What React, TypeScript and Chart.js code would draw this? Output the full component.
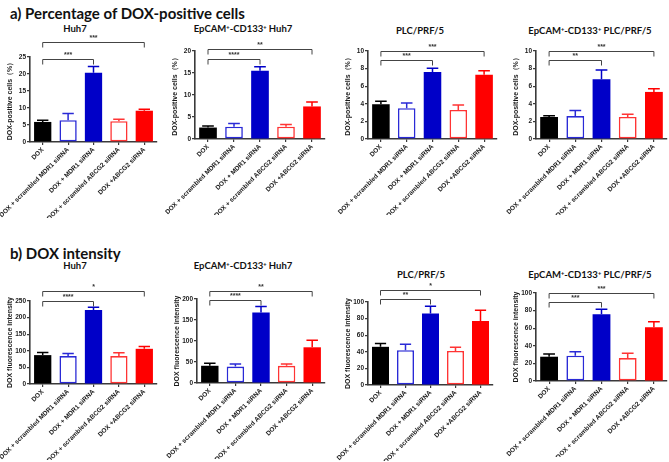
import React, { useEffect, useRef } from 'react';
import { Chart, registerables } from 'chart.js';

Chart.register(...registerables);

// ---------- data ----------
const CATEGORIES = [
  'DOX',
  'DOX + scrambled MDR1 siRNA',
  'DOX + MDR1 siRNA',
  'DOX + scrambled ABCG2 siRNA',
  'DOX +ABCG2 siRNA',
];

// a) Percentage of DOX-positive cells
const A_HUH7_VALUES = [5.9, 6.4, 20.4, 6.1, 9.2];
const A_HUH7_ERRORS = [0.5, 2.0, 1.8, 0.6, 0.4];
const A_EPCAM_HUH7_VALUES = [2.6, 2.8, 15.5, 2.8, 7.4];
const A_EPCAM_HUH7_ERRORS = [0.35, 0.75, 0.9, 0.5, 1.0];
const A_PLC_VALUES = [3.95, 3.5, 7.6, 3.3, 7.3];
const A_PLC_ERRORS = [0.35, 0.6, 0.45, 0.55, 0.45];
const A_EPCAM_PLC_VALUES = [2.5, 2.6, 6.8, 2.5, 5.35];
const A_EPCAM_PLC_ERRORS = [0.15, 0.65, 1.05, 0.3, 0.35];

// b) DOX intensity
const B_HUH7_VALUES = [87, 84, 223, 84, 106];
const B_HUH7_ERRORS = [8, 8, 8, 10, 7];
const B_EPCAM_HUH7_VALUES = [41, 39, 168, 41, 85];
const B_EPCAM_HUH7_ERRORS = [6, 6, 14, 4.5, 17];
const B_PLC_VALUES = [46, 42, 86, 41, 77];
const B_PLC_ERRORS = [4, 7, 9, 4.5, 13];
const B_EPCAM_PLC_VALUES = [27.6, 28.8, 75.8, 26, 61];
const B_EPCAM_PLC_ERRORS = [3, 4.5, 5.6, 5.4, 6.4];

// axis ranges
const A_HUH7_AXIS = { max: 25, step: 5 };
const A_EPCAM_HUH7_AXIS = { max: 20, step: 5 };
const A_PLC_AXIS = { max: 10, step: 2 };
const A_EPCAM_PLC_AXIS = { max: 10, step: 2 };
const B_HUH7_AXIS = { max: 250, step: 50 };
const B_EPCAM_HUH7_AXIS = { max: 200, step: 50 };
const B_PLC_AXIS = { max: 100, step: 20 };
const B_EPCAM_PLC_AXIS = { max: 100, step: 20 };

// significance brackets (category indices, level in data units)
const A_HUH7_SIG = [
  { from: 0, to: 4, at: 29.5, label: '***' },
  { from: 0, to: 2, at: 24.5, label: '***' },
];
const A_EPCAM_HUH7_SIG = [
  { from: 0, to: 4, at: 20.5, label: '**' },
  { from: 0, to: 2, at: 18.2, label: '****' },
];
const A_PLC_SIG = [
  { from: 0, to: 4, at: 10.0, label: '***' },
  { from: 0, to: 2, at: 9.0, label: '***' },
];
const A_EPCAM_PLC_SIG = [
  { from: 0, to: 4, at: 10.0, label: '***' },
  { from: 0, to: 2, at: 9.0, label: '**' },
];
const B_HUH7_SIG = [
  { from: 0, to: 4, at: 280, label: '*' },
  { from: 0, to: 2, at: 250, label: '****' },
];
const B_EPCAM_HUH7_SIG = [
  { from: 0, to: 4, at: 219, label: '**' },
  { from: 0, to: 2, at: 198, label: '****' },
];
const B_PLC_SIG = [
  { from: 0, to: 4, at: 114, label: '*' },
  { from: 0, to: 2, at: 104, label: '**' },
];
const B_EPCAM_PLC_SIG = [
  { from: 0, to: 4, at: 100, label: '***' },
  { from: 0, to: 2, at: 90, label: '***' },
];

const Y_TITLE_A = 'DOX-positive cells（%）';
const Y_TITLE_B = 'DOX fluorescence intensity';

// ---------- styles ----------
const BAR_FILL = ['#000000', '#ffffff', '#0000c8', '#ffffff', '#ff0000'];
const BAR_EDGE = ['#000000', '#2a2ad6', '#0000c8', '#ff3434', '#ff0000'];
const BAR_BORDER_W = [0, 1.6, 0, 1.6, 0];
const AXIS_COLOR = '#3a3a3a';
const FONT = "'Liberation Sans', Arial, sans-serif";
const TITLE_FONT = "Lato, 'Open Sans', sans-serif";

type Sig = { from: number; to: number; at: number; label: string };
type Box = { left: number; right: number; top: number; bottom: number };

const Y_BOX_W = 30;
const X_BOX_H = 76;
const PAD_TOP = 30;
const PAD_LEFT = 12;

function BarPanel(props: {
  values: number[];
  errors: number[];
  axis: { max: number; step: number };
  sig: Sig[];
  yTitle: string;
  box: Box;
}) {
  const { values, errors, axis, sig, yTitle, box } = props;
  const ref = useRef<HTMLCanvasElement | null>(null);
  const cLeft = box.left - Y_BOX_W - PAD_LEFT;
  const cTop = box.top - PAD_TOP;
  const width = box.right + 1 - cLeft;
  const height = box.bottom + X_BOX_H - cTop;

  useEffect(() => {
    const canvas = ref.current;
    if (!canvas) return;
    const overlay = {
      id: 'overlay',
      afterDatasetsDraw(chart: any) {
        const ctx = chart.ctx;
        const xs = chart.scales.x;
        const ys = chart.scales.y;
        const meta = chart.getDatasetMeta(0);
        ctx.save();
        meta.data.forEach((bar: any, i: number) => {
          const top = ys.getPixelForValue(values[i] + errors[i]);
          const base = bar.y;
          const half = bar.width * 0.33;
          ctx.strokeStyle = BAR_EDGE[i];
          ctx.lineWidth = 1.5;
          ctx.beginPath();
          ctx.moveTo(bar.x, base);
          ctx.lineTo(bar.x, top);
          ctx.moveTo(bar.x - half, top);
          ctx.lineTo(bar.x + half, top);
          ctx.stroke();
        });
        ctx.strokeStyle = '#444';
        ctx.fillStyle = '#333';
        ctx.lineWidth = 1;
        ctx.font = `bold 7px ${FONT}`;
        ctx.textAlign = 'center';
        ctx.textBaseline = 'bottom';
        sig.forEach((s) => {
          const x1 = xs.getPixelForValue(s.from);
          const x2 = xs.getPixelForValue(s.to);
          const y = Math.round(ys.getPixelForValue(s.at)) + 0.5;
          ctx.beginPath();
          ctx.moveTo(x1, y + 5);
          ctx.lineTo(x1, y);
          ctx.lineTo(x2, y);
          ctx.lineTo(x2, y + 5);
          ctx.stroke();
          ctx.fillText(s.label, (x1 + x2) / 2, y - 1);
        });
        ctx.restore();
      },
    };

    const chart = new Chart(canvas, {
      type: 'bar',
      data: {
        labels: CATEGORIES,
        datasets: [
          {
            data: values,
            backgroundColor: BAR_FILL,
            borderColor: BAR_EDGE,
            borderWidth: BAR_BORDER_W,
            borderSkipped: false,
            barPercentage: 0.68,
            categoryPercentage: 1,
          },
        ],
      },
      options: {
        responsive: false,
        animation: false,
        devicePixelRatio: 1,
        layout: { padding: { left: PAD_LEFT, top: PAD_TOP, right: 1, bottom: 0 } },
        plugins: {
          legend: { display: false },
          tooltip: { enabled: false },
          title: { display: false },
        },
        scales: {
          x: {
            z: 1,
            afterFit: (s: any) => {
              s.height = X_BOX_H;
            },
            grid: {
              display: true,
              drawOnChartArea: false,
              drawTicks: true,
              tickLength: 3,
              offset: false,
              color: AXIS_COLOR,
              lineWidth: 1.2,
            },
            border: { display: true, color: AXIS_COLOR, width: 1.6 },
            ticks: {
              autoSkip: false,
              minRotation: 45,
              maxRotation: 45,
              padding: 1,
              color: '#1a1a1a',
              font: { family: FONT, size: 6.5, weight: 'bold' },
            },
          },
          y: {
            min: 0,
            max: axis.max,
            afterFit: (s: any) => {
              s.width = Y_BOX_W;
            },
            grid: {
              display: true,
              drawOnChartArea: false,
              drawTicks: true,
              tickLength: 3,
              color: AXIS_COLOR,
              lineWidth: 1.2,
            },
            border: { display: true, color: AXIS_COLOR, width: 1.6 },
            ticks: {
              stepSize: axis.step,
              padding: 1,
              color: '#1a1a1a',
              font: { family: FONT, size: 6.5, weight: 'bold' },
            },
            title: {
              display: true,
              text: yTitle,
              color: '#1a1a1a',
              padding: { top: 6, bottom: 0 },
              font: { family: FONT, size: 7, weight: 'bold' },
            },
          },
        },
      },
      plugins: [overlay],
    } as any);
    return () => chart.destroy();
  }, []);

  return (
    <canvas
      ref={ref}
      width={width}
      height={height}
      style={{ position: 'absolute', left: cLeft, top: cTop, width, height }}
    />
  );
}

function SubTitle(props: { cx: number; cy: number; children: React.ReactNode }) {
  return (
    <div
      style={{
        position: 'absolute',
        left: props.cx - 100,
        top: props.cy - 6,
        width: 200,
        height: 12,
        lineHeight: '12px',
        textAlign: 'center',
        fontFamily: TITLE_FONT,
        fontWeight: 700,
        fontSize: 9.5,
        color: '#111',
        whiteSpace: 'nowrap',
      }}
    >
      {props.children}
    </div>
  );
}

const sup = (t: string) => (
  <sup style={{ fontSize: '0.6em', verticalAlign: 'top', position: 'relative', top: -2 }}>{t}</sup>
);

export default function App() {
  return (
    <div
      style={{
        position: 'fixed',
        left: 0,
        top: 0,
        width: 669,
        height: 462,
        background: '#ffffff',
        overflow: 'hidden',
      }}
    >
      <div
        style={{
          position: 'absolute',
          left: 10,
          top: 4,
          fontFamily: TITLE_FONT,
          fontWeight: 700,
          fontSize: 15,
          lineHeight: '18px',
          color: '#111',
          whiteSpace: 'nowrap',
        }}
      >
        a) Percentage of DOX-positive cells
      </div>
      <div
        style={{
          position: 'absolute',
          left: 10,
          top: 244,
          fontFamily: TITLE_FONT,
          fontWeight: 700,
          fontSize: 15,
          lineHeight: '18px',
          color: '#111',
          whiteSpace: 'nowrap',
        }}
      >
        b) DOX intensity
      </div>

      <SubTitle cx={75} cy={29}>Huh7</SubTitle>
      <SubTitle cx={243} cy={29}>
        EpCAM{sup('+')}-CD133{sup('+')} Huh7
      </SubTitle>
      <SubTitle cx={420} cy={31}>PLC/PRF/5</SubTitle>
      <SubTitle cx={590} cy={31}>
        EpCAM{sup('+')}-CD133{sup('+')} PLC/PRF/5
      </SubTitle>
      <SubTitle cx={75} cy={266}>Huh7</SubTitle>
      <SubTitle cx={243} cy={266}>
        EpCAM{sup('+')}-CD133{sup('+')} Huh7
      </SubTitle>
      <SubTitle cx={421} cy={275}>PLC/PRF/5</SubTitle>
      <SubTitle cx={590} cy={275}>
        EpCAM{sup('+')}-CD133{sup('+')} PLC/PRF/5
      </SubTitle>

      <BarPanel values={A_HUH7_VALUES} errors={A_HUH7_ERRORS} axis={A_HUH7_AXIS} sig={A_HUH7_SIG}
        yTitle={Y_TITLE_A} box={{ left: 30, right: 157, top: 57, bottom: 142 }} />
      <BarPanel values={A_EPCAM_HUH7_VALUES} errors={A_EPCAM_HUH7_ERRORS} axis={A_EPCAM_HUH7_AXIS} sig={A_EPCAM_HUH7_SIG}
        yTitle={Y_TITLE_A} box={{ left: 195, right: 325, top: 51, bottom: 139 }} />
      <BarPanel values={A_PLC_VALUES} errors={A_PLC_ERRORS} axis={A_PLC_AXIS} sig={A_PLC_SIG}
        yTitle={Y_TITLE_A} box={{ left: 368, right: 497, top: 51, bottom: 139 }} />
      <BarPanel values={A_EPCAM_PLC_VALUES} errors={A_EPCAM_PLC_ERRORS} axis={A_EPCAM_PLC_AXIS} sig={A_EPCAM_PLC_SIG}
        yTitle={Y_TITLE_A} box={{ left: 536, right: 667, top: 51, bottom: 139 }} />

      <BarPanel values={B_HUH7_VALUES} errors={B_HUH7_ERRORS} axis={B_HUH7_AXIS} sig={B_HUH7_SIG}
        yTitle={Y_TITLE_B} box={{ left: 30, right: 157, top: 301, bottom: 384 }} />
      <BarPanel values={B_EPCAM_HUH7_VALUES} errors={B_EPCAM_HUH7_ERRORS} axis={B_EPCAM_HUH7_AXIS} sig={B_EPCAM_HUH7_SIG}
        yTitle={Y_TITLE_B} box={{ left: 197, right: 325, top: 299, bottom: 383 }} />
      <BarPanel values={B_PLC_VALUES} errors={B_PLC_ERRORS} axis={B_PLC_AXIS} sig={B_PLC_SIG}
        yTitle={Y_TITLE_B} box={{ left: 368, right: 493, top: 302, bottom: 385 }} />
      <BarPanel values={B_EPCAM_PLC_VALUES} errors={B_EPCAM_PLC_ERRORS} axis={B_EPCAM_PLC_AXIS} sig={B_EPCAM_PLC_SIG}
        yTitle={Y_TITLE_B} box={{ left: 536, right: 667, top: 293, bottom: 381 }} />
    </div>
  );
}
